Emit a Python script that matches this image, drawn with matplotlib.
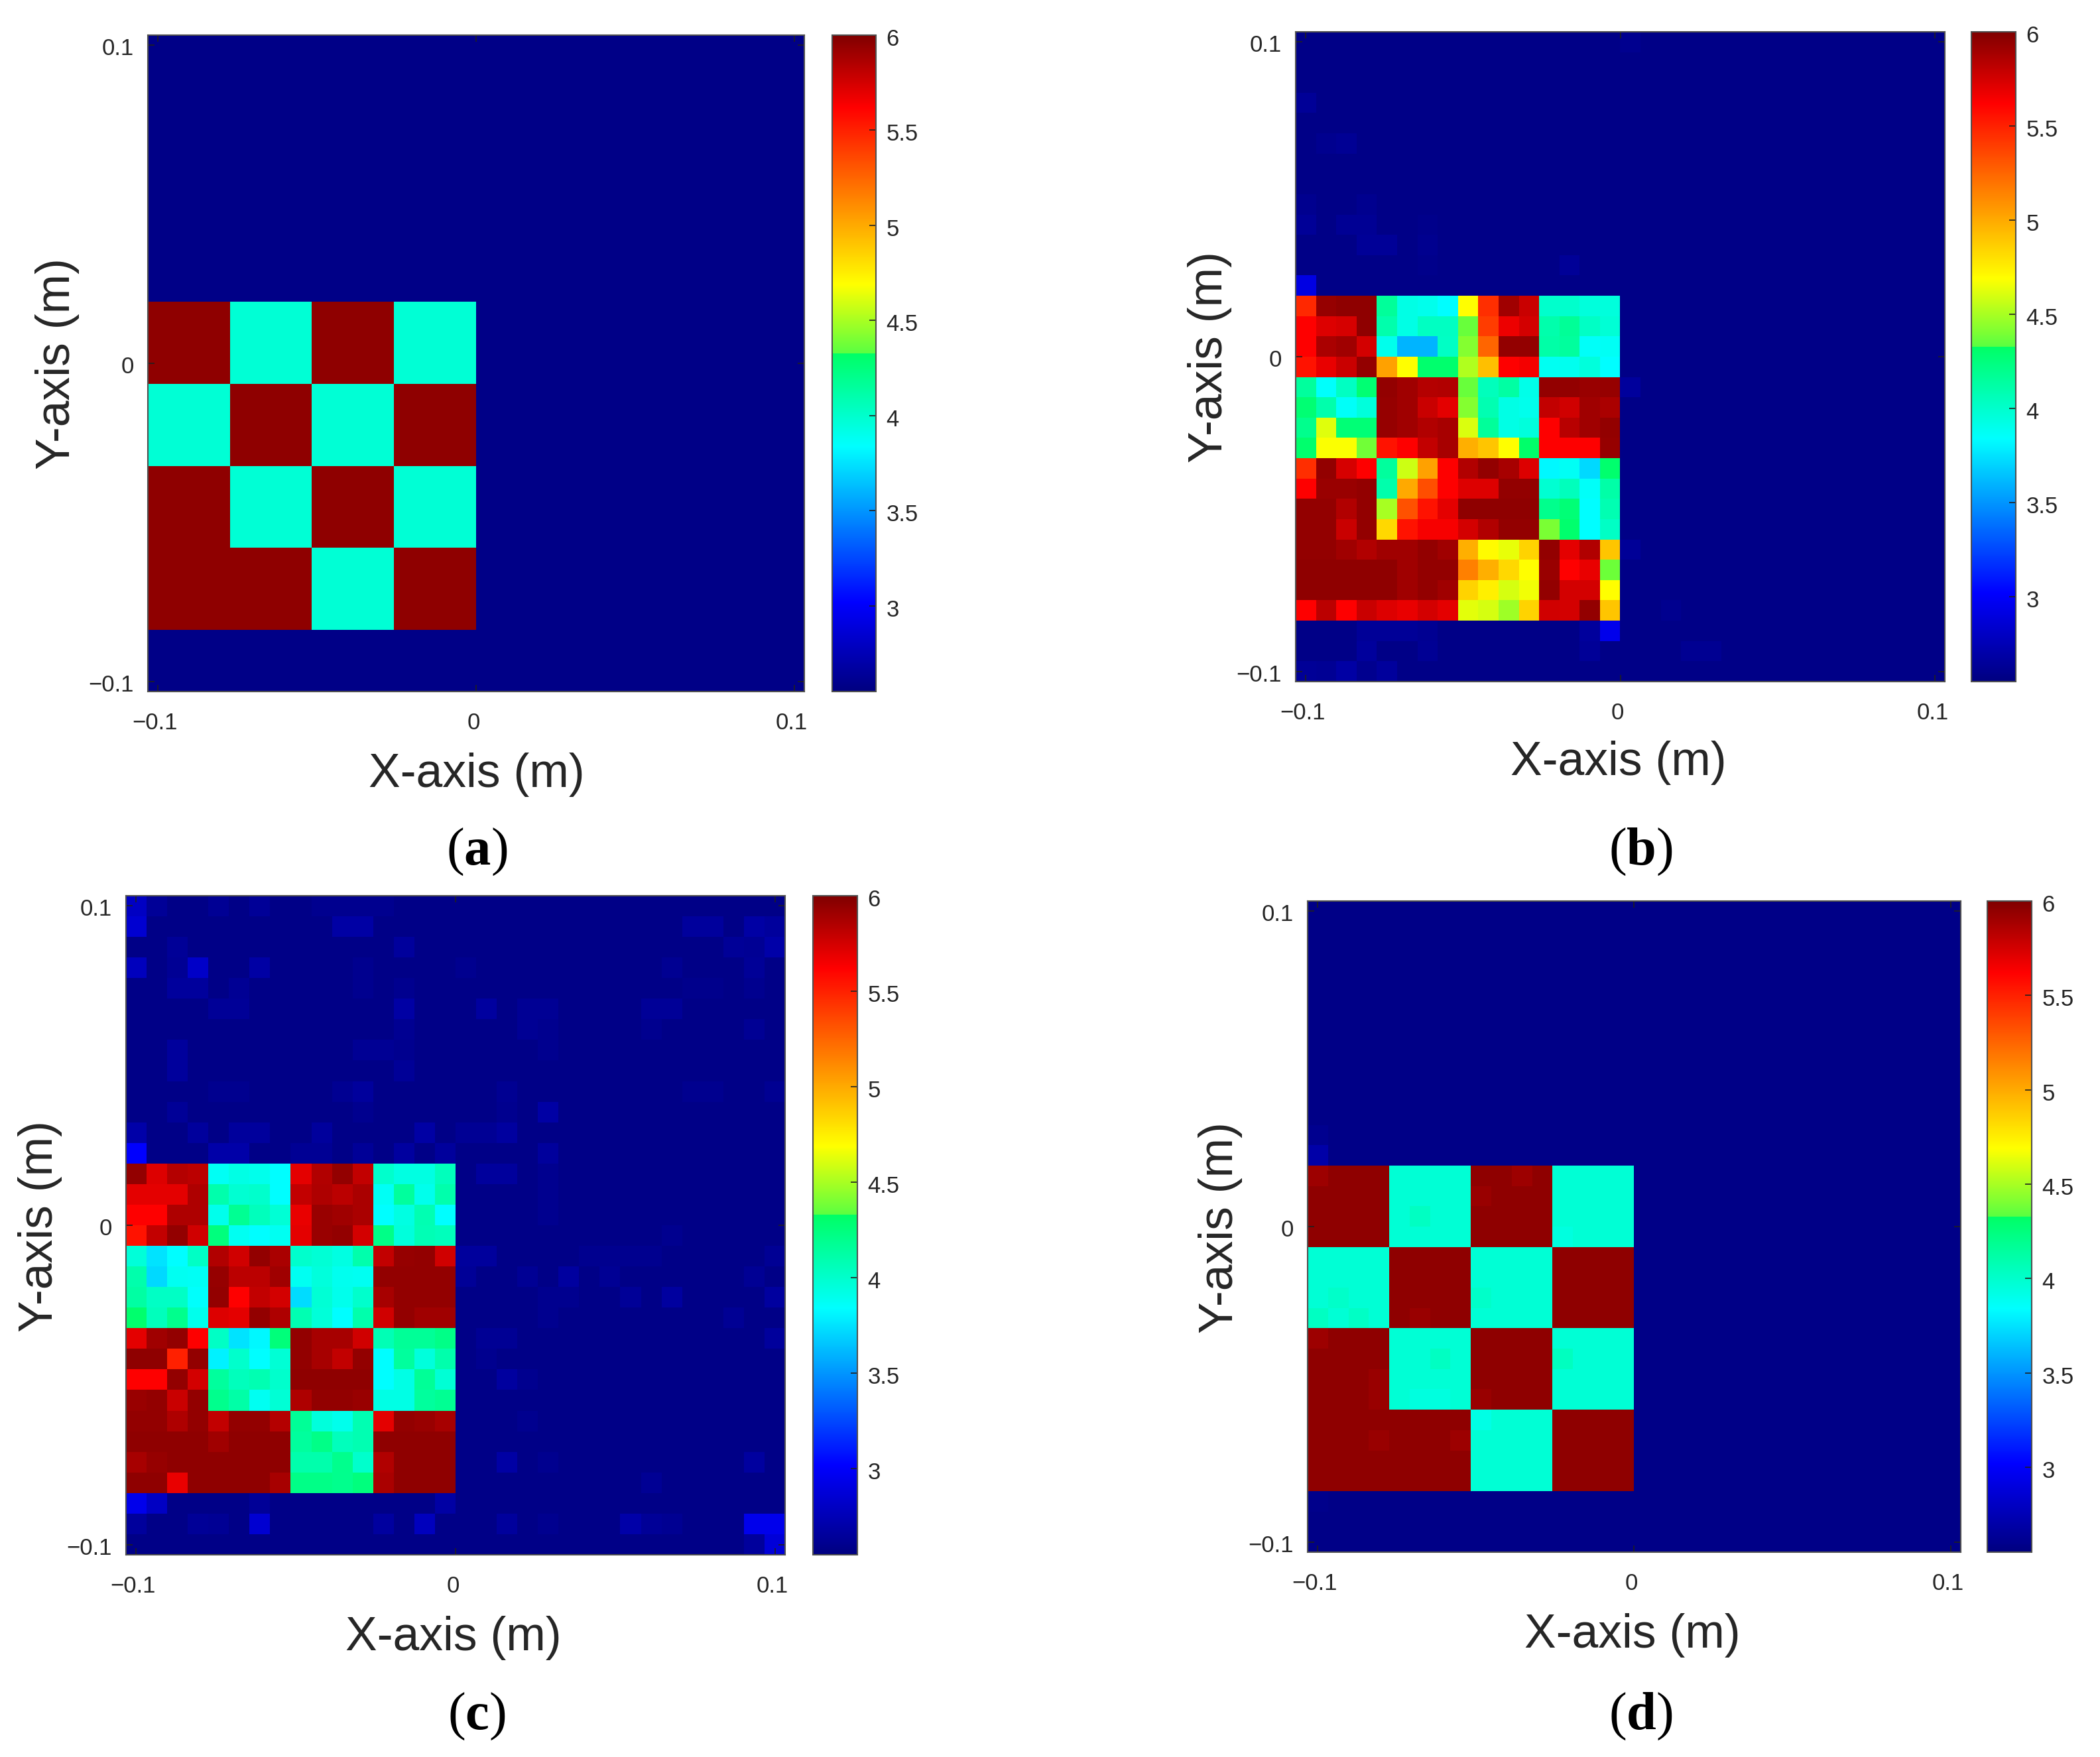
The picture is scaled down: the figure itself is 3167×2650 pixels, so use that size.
import matplotlib
matplotlib.use("Agg")
import matplotlib.pyplot as plt
import numpy as np
from matplotlib.colors import LinearSegmentedColormap
from matplotlib.transforms import ScaledTranslation

## DATA ###
# colorbar: level -> colour, there is a visible jump near 4.33
cmap_levels = [2.55, 3.02, 3.84, 4.33, 4.33, 4.69, 5.62, 6.0]
cmap_colors = ["#000080", "#0000ff", "#00ffff", "#00ff64", "#5aff41", "#ffff00", "#ff0000", "#800000"]
cbar_ticks = [3, 3.5, 4, 4.5, 5, 5.5, 6]
cbar_labels = ["3", "3.5", "4", "4.5", "5", "5.5", "6"]
axis_ticks = [-0.1, 0, 0.1]
axis_labels = ["\u22120.1", "0", "0.1"]
half_width = 0.1031

background = 2.58
high = 5.95
low = 3.97
# 1 = high block, 0 = low block
pattern = [[1, 0, 1, 0],
           [0, 1, 0, 1],
           [1, 0, 1, 0],
           [1, 1, 0, 1]]

block_b = [
    [5.47, 5.93, 5.95, 5.95, 4.16, 3.92, 3.90, 3.84, 4.69, 5.45, 5.90, 5.78, 4.00, 4.00, 3.95, 3.95],
    [5.62, 5.72, 5.74, 5.95, 4.10, 3.92, 4.03, 4.03, 4.36, 5.40, 5.67, 5.75, 4.10, 4.17, 4.02, 3.97],
    [5.62, 5.87, 5.90, 5.75, 3.90, 3.60, 3.60, 4.02, 4.42, 5.25, 5.94, 5.94, 4.12, 4.15, 3.86, 3.87],
    [5.55, 5.68, 5.78, 5.94, 5.03, 4.69, 4.30, 4.30, 4.52, 4.92, 5.62, 5.65, 3.88, 3.89, 3.95, 3.84],
    [4.15, 3.85, 4.03, 4.28, 5.94, 5.90, 5.84, 5.85, 4.36, 4.05, 4.13, 3.91, 5.94, 5.94, 5.92, 5.93],
    [4.28, 4.10, 3.86, 3.95, 5.93, 5.90, 5.78, 5.70, 4.42, 4.08, 3.92, 3.90, 5.80, 5.76, 5.90, 5.87],
    [4.20, 4.62, 4.27, 4.27, 5.93, 5.90, 5.85, 5.88, 4.61, 4.16, 3.92, 3.95, 5.62, 5.83, 5.90, 5.94],
    [4.30, 4.68, 4.68, 4.38, 5.55, 5.62, 5.80, 5.88, 4.98, 4.90, 4.69, 4.31, 5.62, 5.62, 5.62, 5.93],
    [5.45, 5.94, 5.74, 5.62, 4.15, 4.58, 5.03, 5.62, 5.85, 5.94, 5.88, 5.72, 3.82, 3.87, 3.72, 4.30],
    [5.62, 5.92, 5.92, 5.94, 4.10, 5.00, 5.33, 5.62, 5.72, 5.72, 5.94, 5.94, 3.98, 4.05, 3.86, 4.12],
    [5.94, 5.94, 5.85, 5.94, 4.50, 5.32, 5.55, 5.70, 5.95, 5.95, 5.95, 5.95, 4.20, 4.27, 3.84, 4.08],
    [5.94, 5.94, 5.78, 5.94, 4.83, 5.55, 5.64, 5.64, 5.75, 5.85, 5.94, 5.94, 4.40, 4.30, 3.84, 4.02],
    [5.94, 5.94, 5.90, 5.85, 5.90, 5.90, 5.94, 5.90, 4.98, 4.70, 4.64, 4.85, 5.94, 5.70, 5.85, 4.90],
    [5.95, 5.95, 5.95, 5.95, 5.95, 5.90, 5.94, 5.94, 5.15, 4.98, 4.83, 4.69, 5.92, 5.62, 5.68, 4.37],
    [5.95, 5.95, 5.95, 5.95, 5.95, 5.90, 5.94, 5.90, 4.85, 4.74, 4.60, 4.66, 5.94, 5.75, 5.75, 4.69],
    [5.62, 5.82, 5.62, 5.78, 5.72, 5.68, 5.75, 5.70, 4.63, 4.60, 4.48, 4.85, 5.76, 5.75, 5.94, 4.90],
]

block_c = [
    [5.94, 5.72, 5.84, 5.82, 3.87, 3.92, 3.90, 3.84, 5.70, 5.85, 5.94, 5.80, 4.00, 3.93, 3.93, 4.05],
    [5.70, 5.70, 5.70, 5.86, 4.10, 3.98, 4.00, 3.84, 5.80, 5.86, 5.82, 5.87, 3.87, 4.15, 3.90, 4.10],
    [5.62, 5.62, 5.86, 5.86, 3.90, 4.18, 4.05, 3.97, 5.68, 5.92, 5.90, 5.87, 3.84, 3.93, 4.08, 3.84],
    [5.55, 5.80, 5.94, 5.76, 4.25, 3.88, 3.84, 3.88, 5.70, 5.92, 5.94, 5.75, 4.22, 3.95, 4.07, 4.05],
    [3.96, 3.75, 3.84, 4.02, 5.85, 5.76, 5.94, 5.87, 4.00, 3.97, 3.93, 4.10, 5.80, 5.93, 5.94, 5.76],
    [4.10, 3.72, 3.88, 3.87, 5.93, 5.82, 5.82, 5.90, 3.88, 3.95, 3.89, 3.88, 5.94, 5.94, 5.94, 5.94],
    [4.13, 4.02, 4.02, 3.85, 5.94, 5.62, 5.80, 5.75, 3.73, 3.97, 3.90, 4.00, 5.88, 5.94, 5.94, 5.94],
    [4.30, 4.05, 4.20, 3.90, 5.72, 5.70, 5.94, 5.86, 4.08, 3.96, 3.84, 4.10, 5.76, 5.94, 5.90, 5.90],
    [5.70, 5.90, 5.94, 5.62, 4.02, 3.75, 3.82, 4.26, 5.94, 5.88, 5.88, 5.76, 4.07, 4.17, 4.17, 4.22],
    [5.95, 5.95, 5.50, 5.94, 3.80, 4.00, 3.84, 3.97, 5.94, 5.88, 5.80, 5.94, 3.84, 4.15, 3.95, 4.10],
    [5.62, 5.62, 5.94, 5.75, 4.15, 4.05, 4.08, 4.00, 5.95, 5.95, 5.95, 5.95, 3.84, 3.92, 4.17, 3.97],
    [5.92, 5.94, 5.78, 5.94, 4.20, 4.12, 3.88, 3.97, 5.86, 5.94, 5.94, 5.92, 3.92, 3.92, 4.15, 4.18],
    [5.94, 5.94, 5.86, 5.94, 5.80, 5.94, 5.94, 5.84, 4.17, 3.95, 3.90, 4.08, 5.70, 5.94, 5.92, 5.88],
    [5.95, 5.95, 5.95, 5.95, 5.90, 5.95, 5.95, 5.95, 4.15, 4.22, 4.05, 4.08, 5.95, 5.95, 5.95, 5.95],
    [5.88, 5.93, 5.95, 5.95, 5.95, 5.95, 5.95, 5.95, 4.10, 4.10, 4.20, 4.00, 5.85, 5.95, 5.95, 5.95],
    [5.95, 5.95, 5.68, 5.95, 5.95, 5.95, 5.95, 5.88, 4.22, 4.22, 4.20, 4.25, 5.87, 5.95, 5.95, 5.95],
]

# (row, col, value) of the cells of panel d that differ from the plain checker
cells_d = [(0, 0, 5.91), (0, 10, 5.91), (1, 8, 5.92), (7, 5, 5.92), (8, 0, 5.91), (10, 3, 5.92),
           (11, 3, 5.92), (11, 8, 5.92), (13, 3, 5.92), (13, 7, 5.91),
           (2, 5, 4.03), (7, 0, 4.03), (7, 2, 4.02), (9, 6, 4.03), (9, 12, 4.04), (11, 5, 3.94),
           (11, 6, 3.94), (12, 8, 3.92), (3, 12, 3.94), (6, 1, 4.01), (6, 8, 4.01)]

# (row, col, value) of the brighter blue background cells, row 0 is the top of the panel
noise_b = [(0, 16, 2.61), (3, 0, 2.64), (5, 1, 2.61), (5, 2, 2.625), (8, 0, 2.61), (8, 3, 2.61),
           (9, 0, 2.64), (9, 2, 2.625), (9, 3, 2.625), (9, 6, 2.595), (10, 3, 2.64), (10, 4, 2.64),
           (10, 6, 2.61), (11, 6, 2.595), (11, 13, 2.64), (12, 0, 2.92), (17, 16, 2.655), (25, 16, 2.64),
           (28, 18, 2.61), (29, 3, 2.64), (29, 4, 2.64), (29, 5, 2.64), (29, 6, 2.62), (29, 14, 2.655),
           (29, 15, 2.95), (30, 3, 2.655), (30, 6, 2.625), (30, 14, 2.64), (30, 19, 2.62), (30, 20, 2.62),
           (31, 0, 2.64), (31, 1, 2.625), (31, 2, 2.685), (31, 3, 2.61), (31, 4, 2.655)]

noise_c = [(0, 0, 2.8), (0, 1, 2.64), (0, 4, 2.625), (0, 6, 2.64), (0, 9, 2.61), (0, 10, 2.61), (0, 11, 2.61),
           (0, 12, 2.61), (1, 0, 2.85), (1, 10, 2.685), (1, 11, 2.685), (1, 27, 2.655), (1, 28, 2.655),
           (1, 30, 2.685), (1, 31, 2.655), (2, 2, 2.64), (2, 13, 2.655), (2, 29, 2.64), (2, 30, 2.625),
           (2, 31, 2.70), (3, 0, 2.78), (3, 2, 2.625), (3, 3, 2.82), (3, 6, 2.685), (3, 11, 2.61),
           (3, 16, 2.61), (3, 26, 2.62), (3, 30, 2.64), (4, 2, 2.655), (4, 3, 2.655), (4, 5, 2.625),
           (4, 11, 2.61), (4, 13, 2.61), (4, 27, 2.60), (4, 28, 2.60), (4, 30, 2.61), (5, 4, 2.64),
           (5, 5, 2.64), (5, 13, 2.685), (5, 17, 2.67), (5, 19, 2.625), (5, 20, 2.625), (5, 25, 2.64),
           (5, 26, 2.64), (6, 13, 2.62), (6, 19, 2.625), (6, 20, 2.61), (6, 25, 2.61), (6, 30, 2.625),
           (7, 2, 2.655), (7, 11, 2.625), (7, 12, 2.625), (7, 13, 2.61), (7, 20, 2.61), (8, 2, 2.655),
           (8, 13, 2.64), (9, 4, 2.61), (9, 5, 2.61), (9, 10, 2.62), (9, 11, 2.655), (9, 18, 2.62),
           (9, 27, 2.61), (9, 28, 2.61), (9, 31, 2.62), (10, 2, 2.64), (10, 11, 2.61), (10, 18, 2.61),
           (10, 20, 2.685), (11, 0, 2.70), (11, 3, 2.655), (11, 5, 2.655), (11, 6, 2.655), (11, 9, 2.655),
           (11, 14, 2.685), (11, 16, 2.625), (11, 17, 2.625), (11, 18, 2.67), (12, 0, 3.02), (12, 4, 2.70),
           (12, 5, 2.70), (12, 8, 2.63), (12, 9, 2.63), (12, 11, 2.64), (12, 13, 2.67), (12, 15, 2.655),
           (12, 20, 2.655), (13, 17, 2.655), (13, 18, 2.655), (13, 20, 2.61), (14, 20, 2.61), (15, 20, 2.61),
           (16, 26, 2.61), (17, 16, 2.655), (17, 17, 2.655), (17, 22, 2.61), (17, 23, 2.61), (17, 24, 2.61),
           (17, 25, 2.61), (17, 31, 2.625), (18, 16, 2.64), (18, 19, 2.625), (18, 21, 2.67), (18, 23, 2.625),
           (18, 30, 2.625), (19, 20, 2.61), (19, 21, 2.61), (19, 24, 2.64), (19, 26, 2.67), (19, 31, 2.67),
           (20, 20, 2.61), (20, 29, 2.625), (21, 17, 2.625), (21, 18, 2.625), (21, 31, 2.655), (22, 17, 2.61),
           (23, 18, 2.67), (23, 19, 2.61), (25, 19, 2.61), (27, 18, 2.685), (27, 20, 2.61), (27, 30, 2.67),
           (28, 25, 2.625), (29, 0, 2.95), (29, 1, 2.8), (29, 6, 2.64), (29, 15, 2.685), (30, 0, 2.655),
           (30, 3, 2.64), (30, 4, 2.625), (30, 6, 2.85), (30, 12, 2.67), (30, 14, 2.78), (30, 18, 2.655),
           (30, 20, 2.61), (30, 24, 2.70), (30, 25, 2.64), (30, 26, 2.62), (30, 30, 2.95), (30, 31, 2.95),
           (31, 30, 2.655), (31, 31, 2.88)]

noise_d = [(11, 0, 2.61), (12, 0, 2.70), (29, 0, 2.595)]
###########

W, H = 3167, 2650

# left, top, right, bottom of the axes, left and right of the colorbar, in pixels
layout = {
    "a": dict(box=(223, 53, 1213, 1043), cbar=(1255, 1321), xlab=(719, 1168), ylab=(87, 549), tag=(719, 1285)),
    "b": dict(box=(1954, 48, 2933, 1028), cbar=(2973, 3040), xlab=(2441, 1150), ylab=(1825, 539), tag=(2474, 1285)),
    "c": dict(box=(190, 1351, 1184, 2345), cbar=(1226, 1293), xlab=(684, 2471), ylab=(61, 1850), tag=(719, 2589)),
    "d": dict(box=(1972, 1359, 2957, 2341), cbar=(2997, 3064), xlab=(2462, 2467), ylab=(1840, 1852), tag=(2474, 2589)),
}

plt.rcParams["font.family"] = ["Liberation Sans", "DejaVu Sans"]
plt.rcParams["mathtext.fontset"] = "custom"
plt.rcParams["mathtext.rm"] = "Liberation Serif"
plt.rcParams["mathtext.bf"] = "Liberation Serif:bold"

TEXT_COLOR = "#262626"
EDGE_COLOR = "#505050"
TICK_SIZE = 25


def make_cmap():
    lo, hi = cmap_levels[0], cmap_levels[-1]
    stops = [(lev - lo) / (hi - lo) for lev in cmap_levels]
    return LinearSegmentedColormap.from_list("scan", list(zip(stops, cmap_colors)), N=1024)


def checker_block():
    block = np.where(np.array(pattern) == 1, high, low)
    return np.kron(block, np.ones((4, 4)))


def make_grid(block, cells=()):
    grid = np.full((32, 32), background)
    grid[13:29, 0:16] = block
    for row, col, value in cells:
        grid[row, col] = value
    return grid


def px_axes(fig, left, top, right, bottom):
    return fig.add_axes([left / W, 1 - bottom / H, (right - left) / W, (bottom - top) / H])


def style_box(ax):
    for spine in ax.spines.values():
        spine.set_color(EDGE_COLOR)
        spine.set_linewidth(1.5)


def nudge(labels, fig, dx, dy):
    # dx, dy in pixels, dy positive is down
    shift = ScaledTranslation(dx / fig.dpi, -dy / fig.dpi, fig.dpi_scale_trans)
    for lab in labels:
        lab.set_transform(lab.get_transform() + shift)


def draw_panel(fig, name, grid, cmap):
    pos = layout[name]
    left, top, right, bottom = pos["box"]
    ax = px_axes(fig, left, top, right, bottom)
    im = ax.imshow(grid, cmap=cmap, vmin=cmap_levels[0], vmax=cmap_levels[-1], aspect="auto",
                   interpolation="nearest", origin="upper",
                   extent=(-half_width, half_width, -half_width, half_width))
    ax.set_xticks(axis_ticks, axis_labels)
    ax.set_yticks(axis_ticks, axis_labels)
    ax.tick_params(axis="x", direction="in", length=7, width=1.2, color="#202020", top=True,
                   labelsize=TICK_SIZE, labelcolor=TEXT_COLOR, pad=21)
    ax.tick_params(axis="y", direction="in", length=7, width=1.2, color="#202020", right=True,
                   labelsize=TICK_SIZE, labelcolor=TEXT_COLOR, pad=15)
    style_box(ax)
    nudge(ax.get_xticklabels(), fig, -4, 2)
    nudge(ax.get_yticklabels(), fig, 0, 2)

    cax = px_axes(fig, pos["cbar"][0], top, pos["cbar"][1], bottom)
    cbar = fig.colorbar(im, cax=cax)
    cbar.set_ticks(cbar_ticks, labels=cbar_labels)
    cax.tick_params(axis="y", direction="in", length=7, width=1.2, color="#202020",
                    labelsize=TICK_SIZE, labelcolor=TEXT_COLOR, pad=11)
    cbar.outline.set_edgecolor(EDGE_COLOR)
    cbar.outline.set_linewidth(1.5)
    nudge(cax.get_yticklabels(), fig, 0, 3)

    fig.text(pos["xlab"][0] / W, 1 - pos["xlab"][1] / H, "X-axis (m)", fontsize=51.5, color=TEXT_COLOR,
             ha="center", va="center")
    fig.text(pos["ylab"][0] / W, 1 - pos["ylab"][1] / H, "Y-axis (m)", fontsize=51.5, color=TEXT_COLOR,
             ha="center", va="center", rotation=90)
    fig.text(pos["tag"][0] / W, 1 - pos["tag"][1] / H, r"$(\mathbf{%s})$" % name, fontsize=58,
             color="black", ha="center", va="center")


def make_plot():
    fig = plt.figure(figsize=(W / 100, H / 100), dpi=100)
    cmap = make_cmap()
    plain = checker_block()

    block_d = plain.copy()
    for row, col, value in cells_d:
        block_d[row, col] = value

    draw_panel(fig, "a", make_grid(plain), cmap)
    draw_panel(fig, "b", make_grid(block_b, noise_b), cmap)
    draw_panel(fig, "c", make_grid(block_c, noise_c), cmap)
    draw_panel(fig, "d", make_grid(block_d, noise_d), cmap)
    fig.savefig("out.png", dpi=100)


if __name__ == "__main__":
    make_plot()
